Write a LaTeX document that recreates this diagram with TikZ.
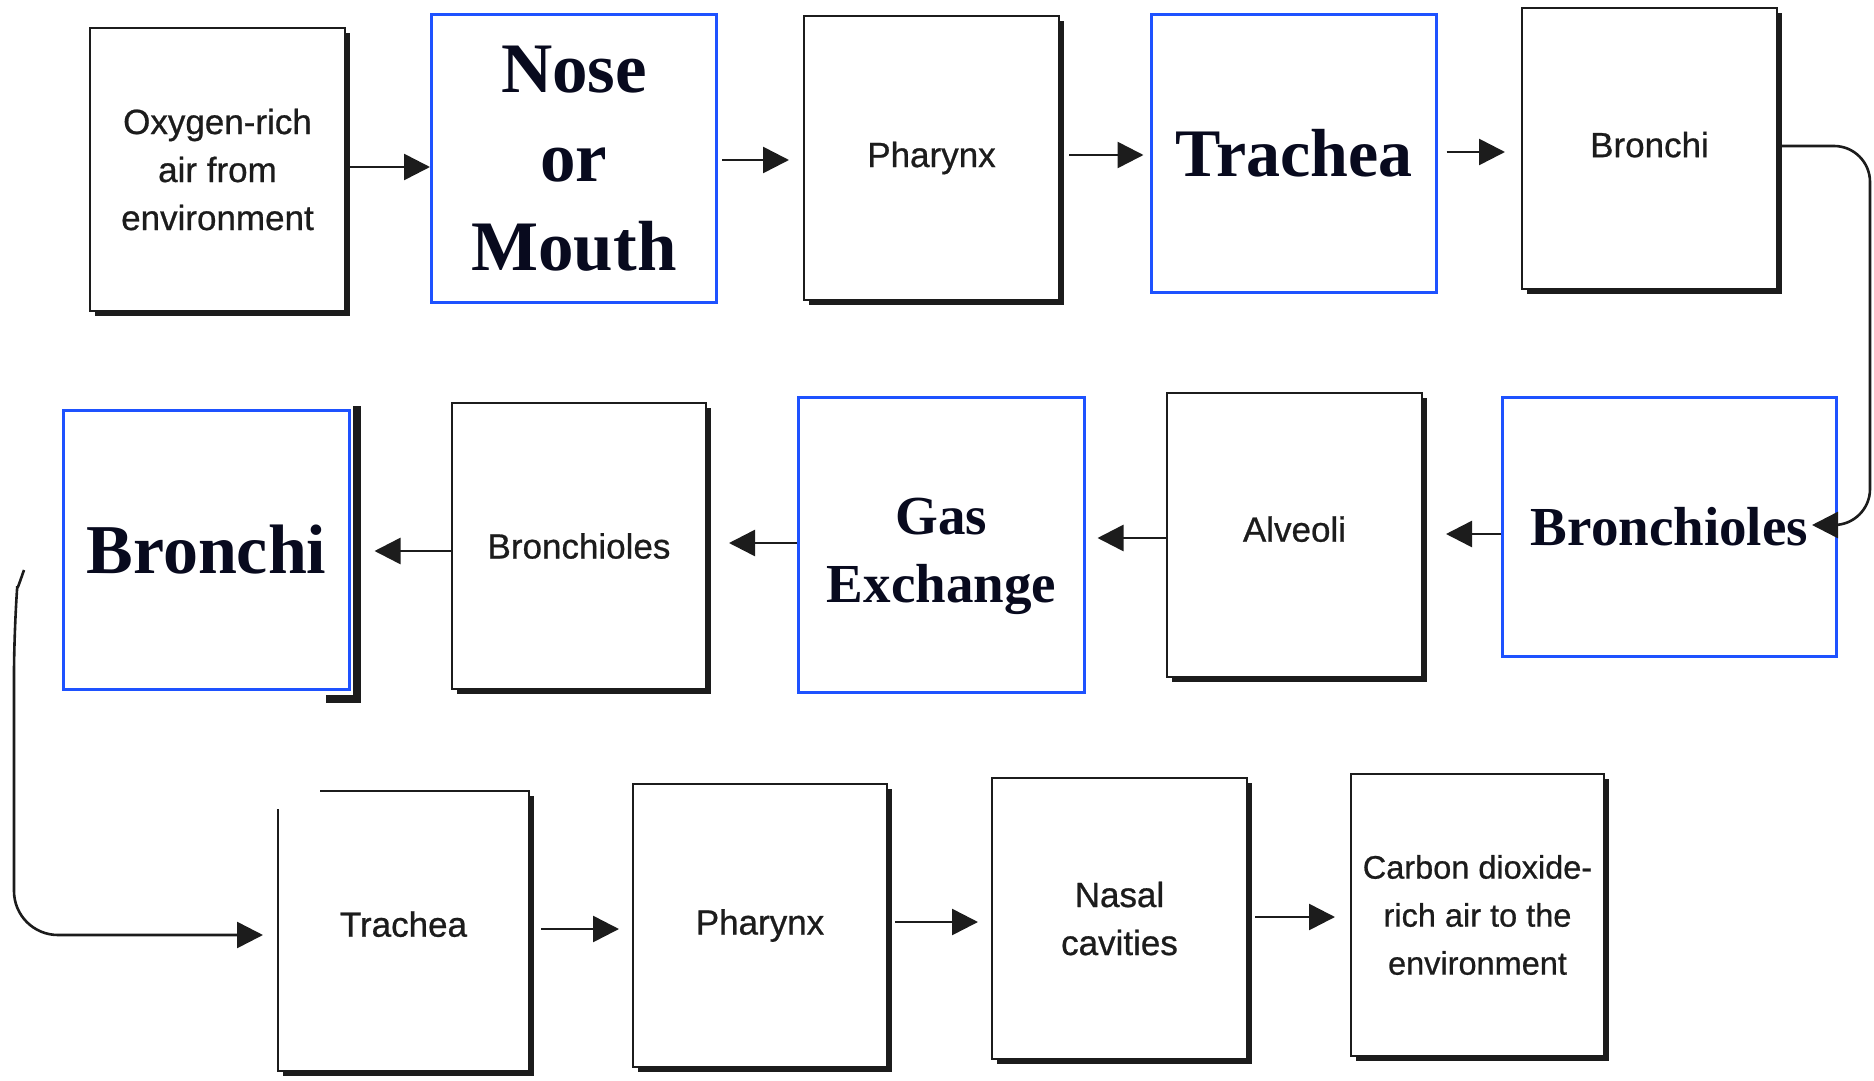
\documentclass[tikz,border=0pt]{standalone}
\usepackage{fontspec}
\setmainfont{Liberation Sans}[FakeBold=0.7]
\newfontfamily\boldserif{Liberation Serif}
\usetikzlibrary{arrows.meta,
	calc,
	shadows}
\definecolor{boxblue}{RGB}{30,82,255}
\definecolor{inkgray}{RGB}{28,28,28}
\definecolor{navyink}{RGB}{8,10,30}

\begin{document}
\begin{tikzpicture}[x=0.5pt,y=-0.5pt]
    \tikzstyle{scanbox}=[draw=inkgray,line width=1pt,fill=white,inner sep=0pt,align=center,text=inkgray,font=\fontsize{17.5}{24}\selectfont,drop shadow={shadow xshift=2.5pt,shadow yshift=-2.5pt,fill=inkgray,opacity=1}]
    \tikzstyle{bluebox}=[draw=boxblue,line width=1.5pt,fill=white,inner sep=0pt,align=center,text=navyink]
    \tikzstyle{flow}=[draw=inkgray,line width=1.3pt,-{Triangle[length=13pt,width=13pt]}]
    \useasboundingbox (0,0) rectangle (1874,1081);
    \node[scanbox,minimum width=127.5pt,minimum height=141.5pt] (b_1) at (217.5,169.5) {Oxygen-rich\\air from\\environment};
    \node[bluebox,minimum width=142.5pt,minimum height=144pt,font=\boldserif\bfseries\fontsize{35.5}{44.5}\selectfont] (b_2) at (574,158.5) {Nose\\or\\Mouth};
    \node[scanbox,minimum width=127.5pt,minimum height=142pt] (b_3) at (931.5,158) {Pharynx};
    \node[bluebox,minimum width=142.5pt,minimum height=139pt,font=\boldserif\bfseries\fontsize{34}{40}\selectfont] (b_4) at (1294,153.5) {Trachea};
    \node[scanbox,minimum width=127.5pt,minimum height=140.5pt,text depth=4pt] (b_5) at (1649.5,148.5) {Bronchi};
    \node[bluebox,minimum width=143pt,minimum height=139.5pt,font=\boldserif\bfseries\fontsize{35}{40}\selectfont] (b_6) at (206.5,550) {Bronchi};
    \node[scanbox,minimum width=127pt,minimum height=143pt] (b_7) at (579,546) {Bronchioles};
    \node[bluebox,minimum width=143pt,minimum height=147.5pt,label={[align=center,yshift=-5.5pt,text=navyink,font=\boldserif\bfseries\fontsize{27.5}{34}\selectfont]center:Gas\\Exchange}] (b_8) at (941.5,545) {};
    \node[scanbox,minimum width=127.5pt,minimum height=142pt,text depth=6pt] (b_9) at (1294.5,535) {Alveoli};
    \node[bluebox,minimum width=167pt,minimum height=129.5pt,font=\boldserif\bfseries\fontsize{27.5}{34}\selectfont] (b_10) at (1669.5,527) {Bronchioles};
    \node[scanbox,minimum width=125.5pt,minimum height=140pt,text depth=7pt] (b_11) at (403.5,931) {Trachea};
    \node[scanbox,minimum width=127pt,minimum height=141.5pt] (b_12) at (760,925.5) {Pharynx};
    \node[scanbox,minimum width=127.5pt,minimum height=140.5pt] (b_13) at (1119.5,918.5) {Nasal\\cavities};
    \node[scanbox,minimum width=126.5pt,minimum height=141pt,font=\fontsize{16.25}{24}\selectfont] (b_14) at (1477.5,915) {Carbon dioxide-\\rich air to the\\environment};
    \fill[white] ($(b_11.north west)+(-5,-5)$) rectangle ($(b_11.north west)+(43,19)$);
    \draw[inkgray,line width=4pt] ($(b_6.north east)+(6,-3)$) -- ($(b_6.south east)+(6,8)$) -- ($(b_6.south east)+(-25,8)$);
    \coordinate (hook) at (24,570);
    \draw[flow] ([yshift=1.25pt]b_1.east) -- ([yshift=-4.25pt]b_2.west);
    \draw[flow] ([xshift=2pt,yshift=-0.75pt]b_2.east) -- ([xshift=-7pt,yshift=-1pt]b_3.west);
    \draw[flow] ([xshift=4.5pt,yshift=1.5pt]b_3.east) -- ([xshift=-3.25pt,yshift=-0.75pt]b_4.west);
    \draw[flow] ([xshift=4.25pt,yshift=0.75pt]b_4.east) -- ([xshift=-8pt,yshift=-1.75pt]b_5.west);
    \draw[flow,rounded corners=18pt] ([yshift=1.25pt]b_5.east) -- ++(92,0) -- ++(0,379) -- ([xshift=-13pt,yshift=1pt]b_10.east);
    \draw[flow] ([yshift=-3.5pt]b_10.west) -- ([xshift=11.5pt,yshift=0.5pt]b_9.east);
    \draw[flow] ([yshift=-1.5pt]b_9.west) -- ([xshift=5.75pt,yshift=3.5pt]b_8.east);
    \draw[flow] ([yshift=1pt]b_8.west) -- ([xshift=11pt,yshift=1.5pt]b_7.east);
    \draw[flow] ([yshift=-2.5pt]b_7.west) -- ([xshift=11.75pt,yshift=-0.5pt]b_6.east);
    \draw[flow,rounded corners=22pt] (hook) .. controls (17,590) .. (14,630) -- (14,935) -- ([xshift=-7pt,yshift=-2pt]b_11.west);
    \draw[flow] ([xshift=5.5pt,yshift=1pt]b_11.east) -- ([xshift=-6.5pt,yshift=-1.75pt]b_12.west);
    \draw[flow] ([xshift=3.5pt,yshift=1.75pt]b_12.east) -- ([xshift=-6.5pt,yshift=-1.75pt]b_13.west);
    \draw[flow] ([xshift=3.5pt,yshift=0.75pt]b_13.east) -- ([xshift=-7.5pt,yshift=-1pt]b_14.west);
  \end{tikzpicture}
\end{document}
